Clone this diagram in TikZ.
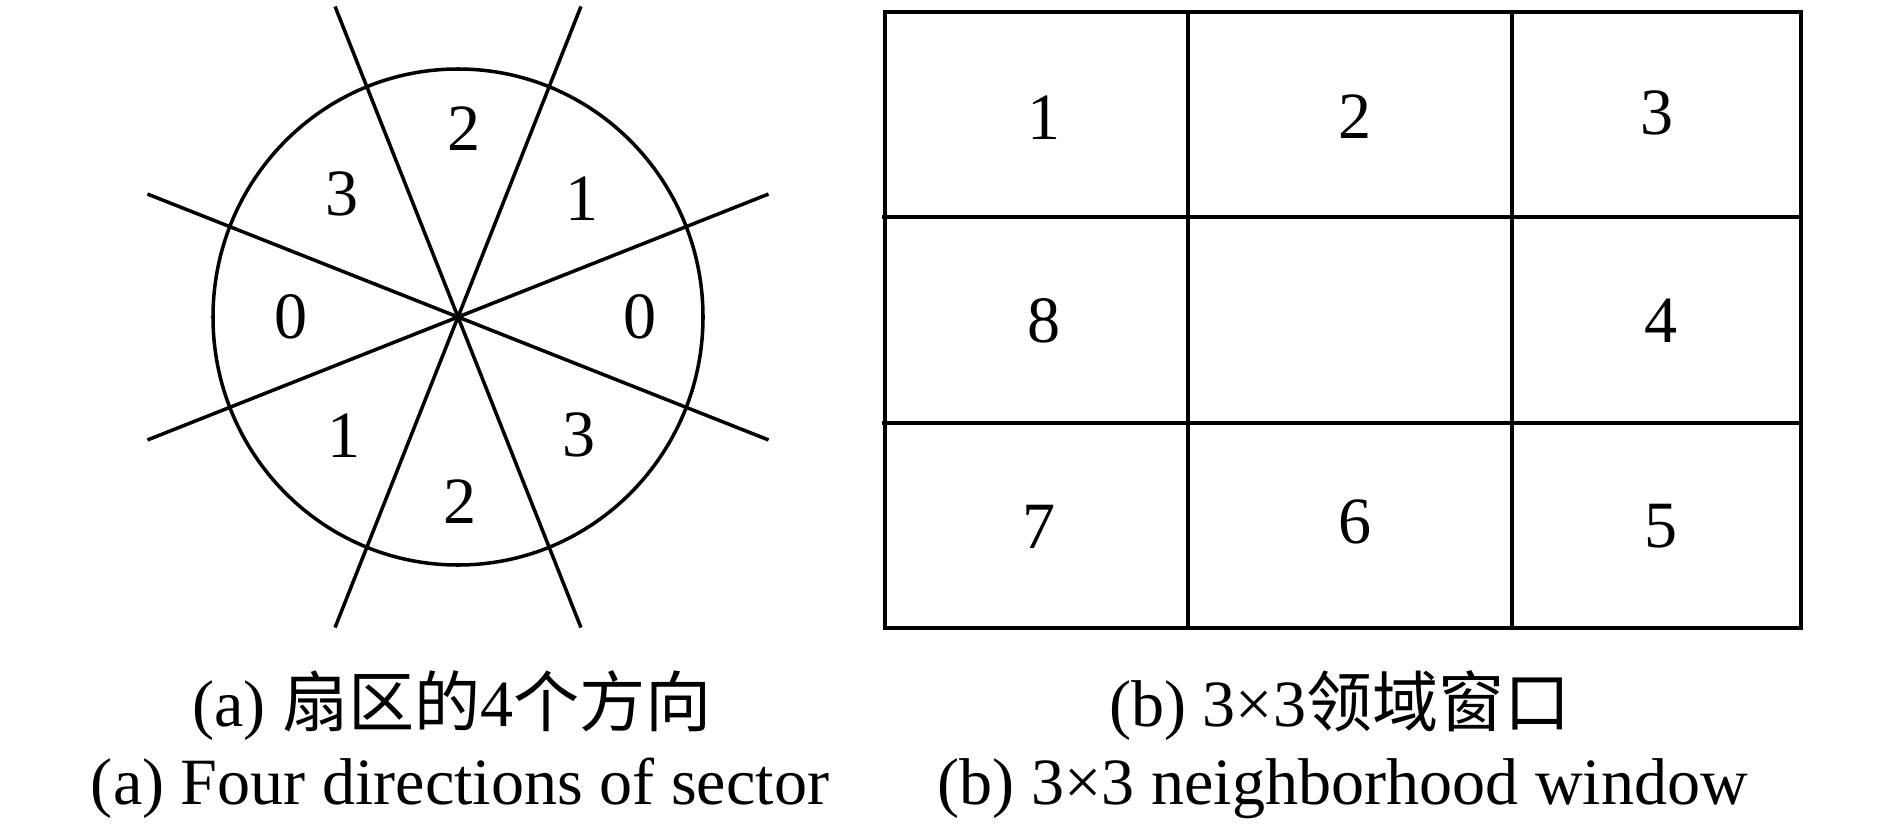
\documentclass[tikz,border=0pt]{standalone}
\usepackage{fontspec}
\usetikzlibrary{calc}
\setmainfont{Liberation Serif}
\newfontfamily\cjk{Noto Sans CJK SC}
\begin{document}
\begin{tikzpicture}[x=0.01cm,y=-0.01cm,
  lbl/.style={font=\fontsize{18.8}{22}\selectfont, inner sep=0pt},
  captxt/.style={font=\fontsize{18.8}{22}\selectfont, inner sep=0pt, anchor=base},
  ln/.style={line width=1pt, black}]
\useasboundingbox (0,0) rectangle (1890,824);
% (a) sector circle
\coordinate (c) at (458,317);
\draw[ln] (c) ellipse[x radius=245, y radius=248];
\foreach \a in {21.6,68.4,111.6,158.4}{
  \draw[ln] ($(c)+(\a:334)$) -- ($(c)+(\a+180:334)$);
}
\node[lbl] (s2t) at (464,129) {2};
\node[lbl] (s3t) at (342,194) {3};
\node[lbl] (s1t) at (582,199) {1};
\node[lbl] (s0l) at (291,317) {0};
\node[lbl] (s0r) at (640,317) {0};
\node[lbl] (s1b) at (344,436) {1};
\node[lbl] (s3b) at (579,435) {3};
\node[lbl] (s2b) at (460,502) {2};
% (b) 3x3 window
\draw[ln] (885,12) rectangle (1801,628);
\draw[ln] (1188,12) -- (1188,628);
\draw[ln] (1512,12) -- (1512,628);
\draw[ln] (882,217) -- (1801,217);
\draw[ln] (882,423) -- (1801,423);
\node[lbl] (g1) at (1044,118) {1};
\node[lbl] (g2) at (1355,117) {2};
\node[lbl] (g3) at (1657,113) {3};
\node[lbl] (g8) at (1044,321) {8};
\node[lbl] (g4) at (1661,321) {4};
\node[lbl] (g7) at (1039,527) {7};
\node[lbl] (g6) at (1355,522) {6};
\node[lbl] (g5) at (1661,526) {5};
% captions
\node[captxt] (ca1) at (452,726) {(a) {\cjk 扇区的}4{\cjk 个方向}};
\node[captxt] (ca2) at (460,804) {(a) Four directions of sector};
\node[captxt] (cb1) at (1340,726) {(b) 3×3{\cjk 领域窗口}};
\node[captxt] (cb2) at (1343,804) {(b) 3×3 neighborhood window};
\end{tikzpicture}
\end{document}
